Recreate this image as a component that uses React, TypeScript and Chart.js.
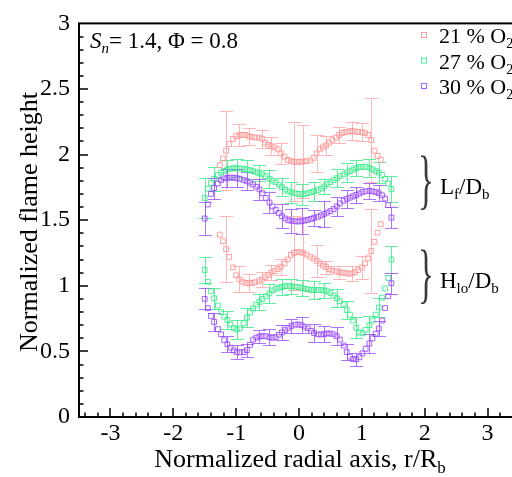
import React, { useEffect, useRef } from 'react';
import { Chart, registerables } from 'chart.js';

Chart.register(...registerables);

// radial positions r/Rb
const R_WIDE = [-1.50, -1.45, -1.40, -1.35, -1.29, -1.24, -1.19, -1.14, -1.09, -1.04, -0.99, -0.94, -0.88, -0.83, -0.78, -0.73, -0.68, -0.63, -0.58, -0.53, -0.47, -0.42, -0.37, -0.32, -0.27, -0.22, -0.17, -0.12, -0.06, -0.01, 0.04, 0.09, 0.14, 0.19, 0.24, 0.30, 0.35, 0.40, 0.45, 0.50, 0.55, 0.60, 0.65, 0.71, 0.76, 0.81, 0.86, 0.91, 0.96, 1.01, 1.06, 1.12, 1.17, 1.22, 1.27, 1.32, 1.37, 1.42, 1.47];
const R_NARROW = [-1.26, -1.21, -1.16, -1.11, -1.05, -1.00, -0.95, -0.90, -0.85, -0.80, -0.75, -0.70, -0.64, -0.59, -0.54, -0.49, -0.44, -0.39, -0.34, -0.29, -0.23, -0.18, -0.13, -0.08, -0.03, 0.02, 0.07, 0.12, 0.18, 0.23, 0.28, 0.33, 0.38, 0.43, 0.48, 0.53, 0.59, 0.64, 0.69, 0.74, 0.79, 0.84, 0.89, 0.94, 1.00, 1.05, 1.10, 1.15, 1.20, 1.25, 1.30];

// 21 % O2
const RED_LF = [1.92, 1.97, 2.03, 2.08, 2.12, 2.14, 2.15, 2.15, 2.15, 2.14, 2.135, 2.13, 2.13, 2.12, 2.09, 2.075, 2.065, 2.055, 2.04, 2.01, 1.985, 1.96, 1.95, 1.945, 1.945, 1.945, 1.948, 1.95, 1.955, 1.975, 2.01, 2.04, 2.055, 2.07, 2.09, 2.11, 2.13, 2.15, 2.165, 2.172, 2.176, 2.18, 2.176, 2.172, 2.17, 2.165, 2.15, 2.11, 2.03, 1.99, 1.96];
const RED_HO = [1.39, 1.34, 1.28, 1.22, 1.14, 1.08, 1.05, 1.032, 1.022, 1.02, 1.022, 1.027, 1.035, 1.047, 1.065, 1.082, 1.10, 1.112, 1.128, 1.145, 1.17, 1.20, 1.235, 1.25, 1.257, 1.256, 1.248, 1.238, 1.222, 1.208, 1.19, 1.172, 1.155, 1.142, 1.127, 1.117, 1.11, 1.104, 1.10, 1.097, 1.092, 1.095, 1.105, 1.12, 1.14, 1.17, 1.21, 1.265, 1.335, 1.405, 1.47];
// 27 % O2
const GREEN_LF = [1.669, 1.74, 1.785, 1.815, 1.845, 1.863, 1.875, 1.887, 1.893, 1.896, 1.896, 1.894, 1.891, 1.887, 1.881, 1.874, 1.865, 1.858, 1.849, 1.835, 1.815, 1.802, 1.789, 1.771, 1.752, 1.733, 1.72, 1.713, 1.705, 1.701, 1.699, 1.699, 1.706, 1.712, 1.72, 1.729, 1.741, 1.757, 1.775, 1.79, 1.806, 1.82, 1.836, 1.849, 1.864, 1.874, 1.886, 1.896, 1.905, 1.905, 1.908, 1.90, 1.888, 1.874, 1.863, 1.845, 1.815, 1.78, 1.736];
const GREEN_HO = [1.12, 1.03, 0.96, 0.905, 0.85, 0.80, 0.765, 0.74, 0.705, 0.68, 0.668, 0.675, 0.715, 0.757, 0.797, 0.828, 0.858, 0.877, 0.90, 0.92, 0.942, 0.965, 0.977, 0.985, 0.992, 0.997, 0.998, 0.995, 0.993, 0.99, 0.985, 0.978, 0.973, 0.968, 0.968, 0.968, 0.968, 0.965, 0.958, 0.945, 0.925, 0.905, 0.883, 0.86, 0.815, 0.78, 0.735, 0.68, 0.645, 0.638, 0.665, 0.70, 0.735, 0.78, 0.835, 0.91, 0.98, 1.06, 1.20];
// 30 % O2
const PURPLE_LF = [1.513, 1.62, 1.70, 1.745, 1.78, 1.805, 1.818, 1.823, 1.825, 1.823, 1.82, 1.816, 1.806, 1.797, 1.787, 1.772, 1.755, 1.735, 1.705, 1.67, 1.635, 1.605, 1.58, 1.555, 1.53, 1.513, 1.50, 1.495, 1.492, 1.49, 1.492, 1.497, 1.503, 1.51, 1.518, 1.525, 1.537, 1.548, 1.558, 1.57, 1.585, 1.605, 1.628, 1.648, 1.662, 1.672, 1.682, 1.692, 1.703, 1.715, 1.721, 1.724, 1.72, 1.715, 1.705, 1.69, 1.665, 1.615, 1.52];
const PURPLE_HO = [0.90, 0.83, 0.77, 0.725, 0.67, 0.63, 0.585, 0.555, 0.528, 0.508, 0.495, 0.492, 0.495, 0.51, 0.55, 0.59, 0.605, 0.613, 0.617, 0.616, 0.608, 0.604, 0.61, 0.627, 0.645, 0.662, 0.679, 0.694, 0.704, 0.705, 0.70, 0.688, 0.676, 0.657, 0.64, 0.63, 0.629, 0.632, 0.637, 0.636, 0.63, 0.615, 0.59, 0.545, 0.495, 0.46, 0.442, 0.44, 0.455, 0.485, 0.52, 0.56, 0.60, 0.635, 0.675, 0.735, 0.83, 0.92, 1.02];

// error bars (point index, half length)
const RED_ERR_IDX = [2, 6, 9, 13, 16, 19, 23, 26, 30, 33, 37, 41, 44, 47];
const RED_LF_ERR = [0.30, 0.085, 0.065, 0.07, 0.07, 0.08, 0.30, 0.28, 0.14, 0.07, 0.06, 0.07, 0.07, 0.32];
const RED_HO_ERR = [0.25, 0.10, 0.07, 0.055, 0.055, 0.06, 0.28, 0.28, 0.12, 0.05, 0.05, 0.055, 0.09, 0.32];
const WIDE_ERR_IDX = [0, 3, 7, 10, 13, 17, 20, 24, 27, 30, 34, 37, 41, 44, 47, 51, 54, 58];
const GREEN_LF_ERR = [0.15, 0.09, 0.07, 0.07, 0.07, 0.06, 0.07, 0.07, 0.08, 0.08, 0.07, 0.06, 0.07, 0.07, 0.06, 0.07, 0.08, 0.10];
const GREEN_HO_ERR = [0.10, 0.08, 0.07, 0.07, 0.07, 0.06, 0.07, 0.06, 0.06, 0.06, 0.07, 0.06, 0.07, 0.07, 0.08, 0.07, 0.07, 0.10];
const PURPLE_LF_ERR = [0.125, 0.08, 0.07, 0.07, 0.07, 0.08, 0.08, 0.09, 0.09, 0.10, 0.06, 0.10, 0.07, 0.07, 0.06, 0.06, 0.06, 0.08];
const PURPLE_HO_ERR = [0.08, 0.07, 0.06, 0.05, 0.05, 0.05, 0.06, 0.06, 0.05, 0.06, 0.07, 0.06, 0.07, 0.06, 0.05, 0.07, 0.06, 0.08];

const LEGEND_LABELS = ['21 % O', '27 % O', '30 % O'];
const X_TICKS = [-3, -2, -1, 0, 1, 2, 3];
const Y_TICKS = [0, 0.5, 1, 1.5, 2, 2.5, 3];
const Y_TICK_LABELS = ['0', '0.5', '1', '1.5', '2', '2.5', '3'];

const RED = 'rgba(255,150,150,0.9)';
const RED_BAR = 'rgba(255,170,170,0.85)';
const GREEN = 'rgba(50,235,135,0.85)';
const GREEN_BAR = 'rgba(70,235,145,0.85)';
const PURPLE = 'rgba(150,70,255,0.85)';
const PURPLE_BAR = 'rgba(160,90,255,0.85)';
const SERIF = "'Liberation Serif', 'Times New Roman', serif";

function mk(xs: number[], ys: number[], idx: number[], err: number[], color: string, bar: string, order: number) {
  return {
    data: xs.map((x, i) => ({ x, y: ys[i] })),
    errIdx: idx,
    err,
    barColor: bar,
    pointStyle: 'rect',
    pointRadius: 3.4,
    pointBorderWidth: 1,
    borderColor: color,
    backgroundColor: 'rgba(0,0,0,0)',
    showLine: false,
    order,
  } as any;
}

function rich(ctx: CanvasRenderingContext2D, parts: { t: string; size: number; dy?: number; italic?: boolean }[], x: number, y: number) {
  let cx = x;
  for (const p of parts) {
    ctx.font = `${p.italic ? 'italic ' : ''}${p.size}px ${SERIF}`;
    ctx.fillText(p.t, cx, y + (p.dy || 0));
    cx += ctx.measureText(p.t).width;
  }
  return cx - x;
}

function richWidth(ctx: CanvasRenderingContext2D, parts: { t: string; size: number; italic?: boolean }[]) {
  let w = 0;
  for (const p of parts) {
    ctx.font = `${p.italic ? 'italic ' : ''}${p.size}px ${SERIF}`;
    w += ctx.measureText(p.t).width;
  }
  return w;
}

const decor = {
  id: 'decor',
  beforeDatasetsDraw(chart: any) {
    const ctx = chart.ctx as CanvasRenderingContext2D;
    const xs = chart.scales.x, ys = chart.scales.y;
    ctx.save();
    ctx.lineWidth = 1;
    const dsets = chart.data.datasets.slice().sort((a: any, b: any) => b.order - a.order);
    for (const ds of dsets) {
      ctx.strokeStyle = ds.barColor;
      ds.errIdx.forEach((k: number, j: number) => {
        const pt = ds.data[k];
        const e = ds.err[j];
        const px = Math.round(xs.getPixelForValue(pt.x)) + 0.5;
        const t = Math.round(ys.getPixelForValue(pt.y + e)) + 0.5;
        const b = Math.round(ys.getPixelForValue(pt.y - e)) + 0.5;
        ctx.beginPath();
        ctx.moveTo(px, t); ctx.lineTo(px, b);
        ctx.moveTo(px - 6.5, t); ctx.lineTo(px + 6.5, t);
        ctx.moveTo(px - 6.5, b); ctx.lineTo(px + 6.5, b);
        ctx.stroke();
      });
    }
    ctx.restore();
  },
  afterDraw(chart: any) {
    const ctx = chart.ctx as CanvasRenderingContext2D;
    const a = chart.chartArea;
    const xs = chart.scales.x, ys = chart.scales.y;
    ctx.save();
    // frame
    ctx.strokeStyle = '#000';
    ctx.lineWidth = 2;
    ctx.strokeRect(a.left, a.top, a.right - a.left, a.bottom - a.top);
    // inward ticks
    ctx.lineWidth = 1.5;
    ctx.beginPath();
    for (let v = -34; v <= 34; v += 2) {
      const px = Math.round(xs.getPixelForValue(v / 10));
      const major = v % 10 === 0;
      ctx.moveTo(px, a.bottom);
      ctx.lineTo(px, a.bottom - (major ? 9 : 4.5));
    }
    for (let v = 1; v < 30; v++) {
      const py = Math.round(ys.getPixelForValue(v / 10));
      const major = v % 5 === 0;
      ctx.moveTo(a.left, py);
      ctx.lineTo(a.left + (major ? 9 : 4.5), py);
    }
    ctx.stroke();

    ctx.fillStyle = '#000';
    ctx.textAlign = 'left';
    ctx.textBaseline = 'alphabetic';
    // legend
    const cols = [RED, GREEN, PURPLE];
    LEGEND_LABELS.forEach((lab, i) => {
      const cy = 35 + i * 25.5;
      ctx.strokeStyle = cols[i];
      ctx.lineWidth = 1;
      ctx.strokeRect(421.5, cy - 2.5, 5, 5);
      ctx.fillStyle = '#000';
      rich(ctx, [{ t: lab, size: 22 }, { t: '2', size: 14, dy: 5 }], 439, cy + 8);
    });
    // condition text
    rich(ctx, [{ t: 'S', size: 23, italic: true }, { t: 'n', size: 15, dy: 5, italic: true }, { t: '= 1.4, \u03A6 = 0.8', size: 23 }], 90, 48);
    // braces
    ctx.fillStyle = '#3a3a3a';
    const brace = (cy: number) => {
      ctx.save();
      ctx.translate(418, cy + 17);
      ctx.scale(0.5, 1);
      ctx.font = `66px ${SERIF}`;
      ctx.fillText('}', 0, 0);
      ctx.restore();
    };
    brace(184);
    brace(278);
    ctx.fillStyle = '#000';
    rich(ctx, [{ t: 'L', size: 23 }, { t: 'f', size: 15, dy: 5 }, { t: '/D', size: 23 }, { t: 'b', size: 15, dy: 5 }], 440, 194);
    rich(ctx, [{ t: 'H', size: 23 }, { t: 'lo', size: 15, dy: 5 }, { t: '/D', size: 23 }, { t: 'b', size: 15, dy: 5 }], 440, 288);
    // axis titles
    const xt = [{ t: 'Normalized radial axis, r/R', size: 26 }, { t: 'b', size: 17, dy: 6 }];
    const w = richWidth(ctx, xt);
    rich(ctx, xt, 300 - w / 2, 467);
    ctx.save();
    ctx.translate(37, 222);
    ctx.rotate(-Math.PI / 2);
    ctx.textAlign = 'center';
    ctx.font = `26px ${SERIF}`;
    ctx.fillText('Normalized flame height', 0, 0);
    ctx.restore();
    ctx.restore();
  },
};

export default function App() {
  const ref = useRef<HTMLCanvasElement>(null);
  useEffect(() => {
    const chart = new Chart(ref.current as HTMLCanvasElement, {
      type: 'scatter',
      data: {
        datasets: [
          mk(R_NARROW, RED_LF, RED_ERR_IDX, RED_LF_ERR, RED, RED_BAR, 3),
          mk(R_NARROW, RED_HO, RED_ERR_IDX, RED_HO_ERR, RED, RED_BAR, 3),
          mk(R_WIDE, GREEN_LF, WIDE_ERR_IDX, GREEN_LF_ERR, GREEN, GREEN_BAR, 2),
          mk(R_WIDE, GREEN_HO, WIDE_ERR_IDX, GREEN_HO_ERR, GREEN, GREEN_BAR, 2),
          mk(R_WIDE, PURPLE_LF, WIDE_ERR_IDX, PURPLE_LF_ERR, PURPLE, PURPLE_BAR, 1),
          mk(R_WIDE, PURPLE_HO, WIDE_ERR_IDX, PURPLE_HO_ERR, PURPLE, PURPLE_BAR, 1),
        ],
      },
      options: {
        animation: false,
        responsive: false,
        layout: { padding: { top: 15, right: 21, left: 0, bottom: 0 } },
        plugins: { legend: { display: false }, tooltip: { enabled: false } },
        scales: {
          x: {
            type: 'linear',
            min: -3.5,
            max: 3.5,
            afterFit: (s: any) => { s.height = 60; },
            afterBuildTicks: (s: any) => { s.ticks = X_TICKS.map((v) => ({ value: v })); },
            grid: { display: false, drawTicks: false },
            border: { display: false },
            ticks: { color: '#000', padding: 2, font: { family: SERIF, size: 24 }, maxRotation: 0, callback: (v: any) => String(v) },
          },
          y: {
            type: 'linear',
            min: 0,
            max: 3,
            afterFit: (s: any) => { s.width = 79; },
            afterBuildTicks: (s: any) => { s.ticks = Y_TICKS.map((v) => ({ value: v })); },
            grid: { display: false, drawTicks: false },
            border: { display: false },
            ticks: {
              color: '#000',
              padding: 9,
              font: { family: SERIF, size: 24 },
              callback: (v: any) => Y_TICK_LABELS[Y_TICKS.indexOf(Number(v))] ?? String(v),
            },
          },
        },
      },
      plugins: [decor],
    } as any);
    return () => chart.destroy();
  }, []);
  return (
    <div style={{ position: 'fixed', left: 0, top: 0, width: 512, height: 477, overflow: 'hidden', background: '#fff' }}>
      <canvas ref={ref} width={540} height={477} style={{ display: 'block' }} />
    </div>
  );
}
